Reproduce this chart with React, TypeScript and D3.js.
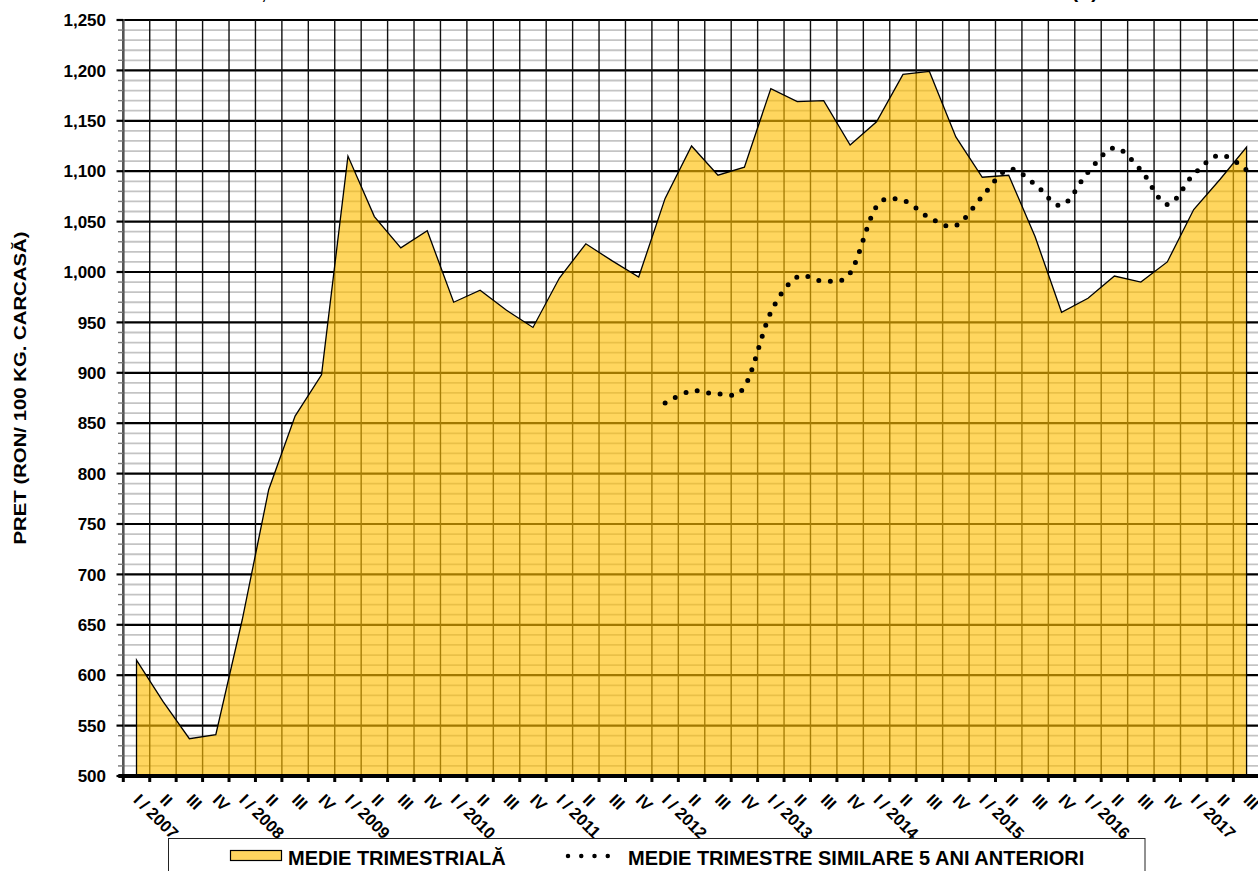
import React from 'react';
import * as d3 from 'd3';

const quarterLabels = [
  'I / 2007', 'II', 'III', 'IV',
  'I / 2008', 'II', 'III', 'IV',
  'I / 2009', 'II', 'III', 'IV',
  'I / 2010', 'II', 'III', 'IV',
  'I / 2011', 'II', 'III', 'IV',
  'I / 2012', 'II', 'III', 'IV',
  'I / 2013', 'II', 'III', 'IV',
  'I / 2014', 'II', 'III', 'IV',
  'I / 2015', 'II', 'III', 'IV',
  'I / 2016', 'II', 'III', 'IV',
  'I / 2017', 'II', 'III',
];

const medieTrimestriala = [
  615, 574, 537, 541,
  655, 784, 857, 898,
  1115, 1055, 1024, 1041,
  970, 982, 962, 945,
  994, 1028, 1011, 995,
  1073, 1125, 1096, 1104,
  1182, 1169, 1170, 1126,
  1149, 1196, 1199, 1134,
  1094, 1096, 1035, 960,
  974, 996, 990, 1010,
  1062, 1092, 1124,
];

// series "medie trimestre similare 5 ani anteriori" starts at I / 2012
const medie5AniStart = 20;
const medie5Ani = [
  870, 882, 879, 886,
  960, 995, 991, 999,
  1065, 1071, 1054, 1046,
  1075, 1102, 1087, 1066,
  1099, 1123, 1101, 1067,
  1097, 1116, 1101,
];

const yTickValues = [500, 550, 600, 650, 700, 750, 800, 850, 900, 950, 1000, 1050, 1100, 1150, 1200, 1250];

const legendLabels = ['MEDIE TRIMESTRIALĂ', 'MEDIE TRIMESTRE SIMILARE 5 ANI ANTERIORI'];
const axisTitle = 'PRET (RON/ 100 KG.  CARCASĂ)';
const chartTitle = 'EVOLUȚIA PRETULUI MEDIU LA PORCINE ÎN CARCASĂ PE TRIMESTRE ÎN ROMÂNIA (1)';

const FONT = "'Liberation Sans', Arial, Helvetica, sans-serif";

export default function App() {
  const W = 1258;
  const H = 871;
  const left = 123.3;
  const step = 26.43;
  const top = 20;
  const bottom = 776;

  const x = d3
    .scaleBand<number>()
    .domain(d3.range(quarterLabels.length))
    .range([left, left + step * quarterLabels.length])
    .paddingInner(0)
    .paddingOuter(0);
  const bw = x.bandwidth();
  const cx = (i: number) => (x(i) as number) + bw / 2;

  const y = d3.scaleLinear().domain([500, 1250]).range([bottom, top]);
  const fmt = d3.format(',');

  const minorValues = d3.range(500, 1251, 10).filter((v) => v % 50 !== 0);
  const boundaries = d3.range(quarterLabels.length + 1).map((k) => left + k * bw);

  const areaPath = d3
    .area<number>()
    .x((_, i) => cx(i))
    .y0(y(500))
    .y1((d) => y(d))(medieTrimestriala) as string;

  const dotPath = d3
    .line<number>()
    .x((_, i) => cx(i + medie5AniStart))
    .y((d) => y(d))
    .curve(d3.curveCardinal.tension(0))(medie5Ani) as string;

  const gridRight = W + 5;

  return (
    <div style={{ position: 'absolute', left: 0, top: 0, width: W, height: H, overflow: 'hidden' }}>
      <svg width={W} height={H} style={{ display: 'block', background: '#fff' }} fontFamily={FONT}>
        <rect x={0} y={0} width={W} height={H} fill="#fff" />

        {/* cut-off title */}
        <text x={184} y={-2.5} fontSize={20} fontWeight="bold" textLength={914} lengthAdjust="spacing" fill="#000">
          {chartTitle}
        </text>

        {/* minor horizontal gridlines */}
        {minorValues.map((v) => (
          <line key={'mn' + v} x1={left} x2={gridRight} y1={y(v)} y2={y(v)} stroke="#c4c4c4" strokeWidth={1.8} />
        ))}
        {/* major horizontal gridlines */}
        {yTickValues.map((v) => (
          <line key={'mj' + v} x1={left} x2={gridRight} y1={y(v)} y2={y(v)} stroke="#000" strokeWidth={2.2} />
        ))}
        {/* vertical gridlines */}
        {boundaries.slice(1).map((bx, k) => (
          <line key={'vg' + k} x1={bx} x2={bx} y1={top} y2={bottom} stroke="#111" strokeWidth={1.4} />
        ))}

        {/* area series */}
        <path d={areaPath} fill="#FFBE00" fillOpacity={0.63} stroke="none" />
        <path d={areaPath} fill="none" stroke="#000" strokeWidth={1.3} strokeLinejoin="miter" />

        {/* dotted smooth series */}
        <path
          d={dotPath}
          fill="none"
          stroke="#000"
          strokeWidth={5}
          strokeLinecap="round"
          strokeDasharray="0 11.6"
        />

        {/* y axis */}
        <line x1={left} x2={left} y1={top - 1} y2={bottom} stroke="#555" strokeWidth={2.6} />
        {minorValues.map((v) => (
          <line key={'mt' + v} x1={118} x2={left} y1={y(v)} y2={y(v)} stroke="#777" strokeWidth={1.4} />
        ))}
        {yTickValues.map((v) => (
          <g key={'yt' + v}>
            <line x1={116.5} x2={left} y1={y(v)} y2={y(v)} stroke="#000" strokeWidth={2.2} />
            <text x={106} y={y(v)} dy="0.36em" textAnchor="end" fontSize={17} fontWeight="bold" fill="#000">
              {fmt(v)}
            </text>
          </g>
        ))}

        {/* x axis */}
        <line x1={left - 5} x2={gridRight} y1={bottom} y2={bottom} stroke="#000" strokeWidth={4} />
        {boundaries.map((bx, k) => (
          <line key={'xt' + k} x1={bx} x2={bx} y1={bottom} y2={bottom + 6} stroke="#000" strokeWidth={3} />
        ))}
        {quarterLabels.map((lab, i) => (
          <text
            key={'xl' + i}
            transform={`translate(${cx(i) - 4},${801}) rotate(45)`}
            fontSize={16.5}
            fontWeight="bold"
            fill="#000"
          >
            {lab}
          </text>
        ))}

        {/* y axis title */}
        <text
          transform="translate(26,388) rotate(-90)"
          textAnchor="middle"
          fontSize={17}
          fontWeight="bold"
          textLength={313}
          lengthAdjust="spacingAndGlyphs"
          fill="#000"
        >
          {axisTitle}
        </text>

        {/* legend */}
        <rect x={168.5} y={838.5} width={976.5} height={45} fill="#fff" stroke="#222" strokeWidth={1} />
        <rect x={230.5} y={850.5} width={51} height={10} fill="#FFD55E" stroke="#000" strokeWidth={1.2} />
        <text x={288} y={865} fontSize={20} fontWeight="bold" fill="#000">
          {legendLabels[0]}
        </text>
        <line
          x1={568}
          x2={621}
          y1={856}
          y2={856}
          stroke="#000"
          strokeWidth={4.5}
          strokeLinecap="round"
          strokeDasharray="0 13.25"
        />
        <text x={628} y={865} fontSize={20} fontWeight="bold" fill="#000">
          {legendLabels[1]}
        </text>
      </svg>
    </div>
  );
}
